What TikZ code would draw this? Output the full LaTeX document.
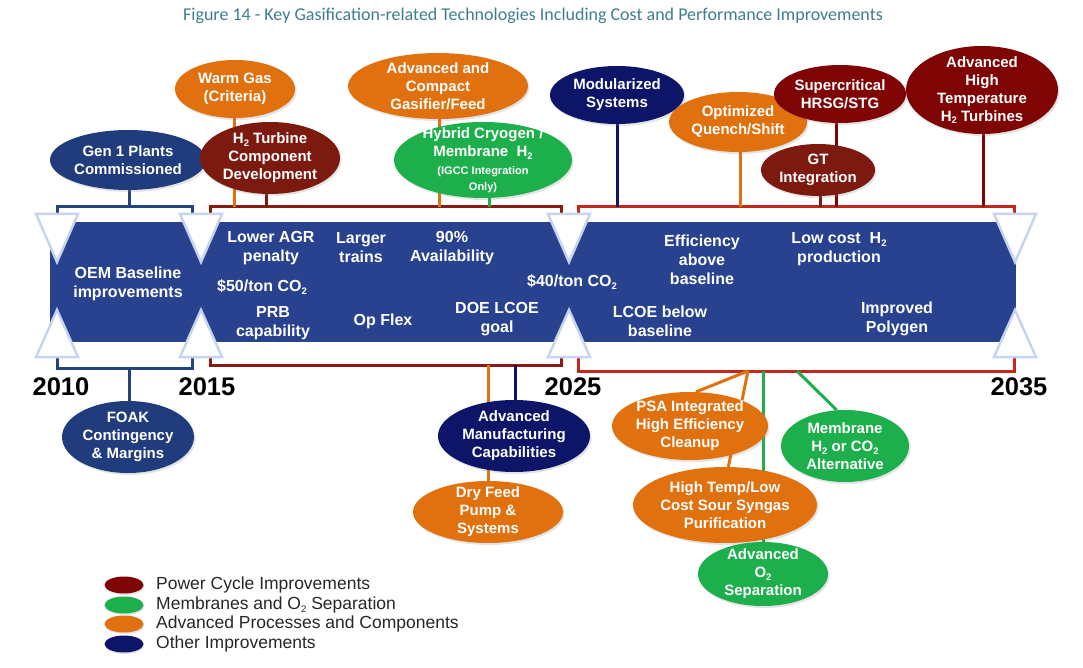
\documentclass[tikz,border=0pt]{standalone}
\usepackage{fontspec}
\setmainfont{Liberation Sans}
\newfontfamily\titlefont{Carlito}
\usetikzlibrary{shapes.geometric,shadows}
\pgfdeclarelayer{bg}
\pgfsetlayers{bg,main}
\definecolor{navyA}{HTML}{213C7C}
\definecolor{navyB}{HTML}{0D1568}
\definecolor{dred}{HTML}{7D1A10}
\definecolor{dredB}{HTML}{7F0404}
\definecolor{grn}{HTML}{1CAF4C}
\definecolor{org}{HTML}{E1700F}
\definecolor{bandc}{HTML}{28428F}
\definecolor{tric}{HTML}{C7D4F0}
\definecolor{brBlue}{HTML}{24427F}
\definecolor{brDred}{HTML}{8A1B12}
\definecolor{brRed}{HTML}{C4261C}
\definecolor{ttl}{HTML}{3E7D8C}
\definecolor{legt}{HTML}{262626}
\newcommand{\subs}[1]{\raisebox{-0.35ex}{\fontsize{9.5}{9.5}\selectfont #1}}
\newcommand{\smallf}{\fontsize{11}{12}\selectfont}
\tikzset{
  bub/.style={ellipse, fill=#1, text=white, font=\bfseries\fontsize{15}{18}\selectfont,
    align=center, inner sep=-10pt,
    drop shadow={opacity=0.22, shadow xshift=1.5pt, shadow yshift=-2pt}},
  bt/.style={text=white, font=\bfseries\fontsize{16}{19}\selectfont, align=center, inner sep=0pt},
  yr/.style={text=black, font=\bfseries\fontsize{25.5}{28}\selectfont, inner sep=0pt},
  stem/.style={line width=3pt, draw=#1},
  brk/.style={line width=3pt, draw=#1, line join=miter},
  trist/.style={fill=white, draw=tric, line width=2.5pt, line join=miter},
  leg/.style={ellipse, fill=#1, minimum width=39, minimum height=17, inner sep=0pt,
    drop shadow={opacity=0.22, shadow xshift=1pt, shadow yshift=-1.5pt}},
  legtxt/.style={anchor=west, text=legt, font=\fontsize{17.5}{20}\selectfont, inner sep=0pt}
}
\begin{document}
\begin{tikzpicture}[x=1pt,y=-1pt]
\useasboundingbox (0,0) rectangle (1083,668);

% title
\node[font=\titlefont\fontsize{18}{20}\selectfont, text=ttl, inner sep=0pt] (title) at (533,16)
  {Figure 14 - Key Gasification-related Technologies Including Cost and Performance Improvements};

% band
\node[rectangle, fill=bandc, minimum width=966, minimum height=120, anchor=north west, inner sep=0pt] (bandbox) at (50,222) {};
\foreach \x in {57,201,569,1015} {
  \draw[trist] (\x-21,214) -- (\x,262) -- (\x+21,214) -- cycle;
  \draw[trist] (\x-21,357) -- (\x,310) -- (\x+21,357) -- cycle;
}

% band texts
\node[bt] (oem) at (128,284) {OEM Baseline\\improvements};
\node[bt] (agr) at (271,248) {Lower AGR\\penalty};
\node[bt] (lt) at (361,248) {Larger\\trains};
\node[bt] (avail) at (452,248) {90\%\\Availability};
\node[bt] (c50) at (262,287) {\$50/ton CO\subs{2}};
\node[bt] (prb) at (273,323) {PRB\\capability};
\node[bt] (opf) at (383,321) {Op Flex};
\node[bt] (doe) at (497,319) {DOE LCOE\\goal};
\node[bt] (c40) at (572,282) {\$40/ton CO\subs{2}};
\node[bt] (eff) at (702,260) {Efficiency\\above\\baseline};
\node[bt] (lch) at (839,249) {Low cost~ H\subs{2}\\production};
\node[bt] (lcoe) at (660,321) {LCOE below\\baseline};
\node[bt] (poly) at (897,319) {Improved\\Polygen};

% year labels
\node[yr] (y2010) at (61,387) {2010};
\node[yr] (y2015) at (207,387) {2015};
\node[yr] (y2025) at (573,387) {2025};
\node[yr] (y2035) at (1019,387) {2035};

% ellipses (top)
\node[bub=navyA, minimum width=156, minimum height=60] (gen1) at (128,160) {Gen 1 Plants\\Commissioned};
\node[bub=org, minimum width=120, minimum height=58] (warm) at (235,89) {Warm Gas\\(Criteria)};
\node[bub=dred, minimum width=140, minimum height=72] (h2t) at (270,158) {H\subs{2} Turbine\\Component\\Development};
\node[bub=org, minimum width=180, minimum height=66] (acg) at (438,86) {Advanced and\\Compact\\Gasifier/Feed};
\node[bub=grn, minimum width=178, minimum height=76] (hyb) at (483,160) {Hybrid Cryogen /\\Membrane~ H\subs{2}\\{\smallf (IGCC Integration}\\[-2pt]{\smallf Only)}};
\node[bub=navyB, minimum width=134, minimum height=58] (mod) at (617,95) {Modularized\\Systems};
\node[bub=org, minimum width=138, minimum height=60] (opt) at (738,122) {Optimized\\Quench/Shift};
\node[bub=dredB, minimum width=132, minimum height=58] (sup) at (840,94) {Supercritical\\HRSG/STG};
\node[bub=dred, minimum width=114, minimum height=52] (gti) at (818,170) {GT\\Integration};
\node[bub=dredB, minimum width=152, minimum height=88] (aht) at (982,90) {Advanced\\High\\Temperature\\H\subs{2} Turbines};

% ellipses (bottom)
\node[bub=navyA, minimum width=132, minimum height=72] (foak) at (128,437) {FOAK\\Contingency\\\& Margins};
\node[bub=navyB, minimum width=152, minimum height=72] (adm) at (514,436) {Advanced\\Manufacturing\\Capabilities};
\node[bub=org, minimum width=150, minimum height=62] (dry) at (488,512) {Dry Feed\\Pump \&\\Systems};
\node[bub=org, minimum width=156, minimum height=68] (psa) at (690,426) {PSA Integrated\\High Efficiency\\Cleanup};
\node[bub=grn, minimum width=128, minimum height=72] (mem) at (845,446) {Membrane\\H\subs{2} or CO\subs{2}\\Alternative};
\node[bub=org, minimum width=184, minimum height=76] (hts) at (725,505) {High Temp/Low\\Cost Sour Syngas\\Purification};
\node[bub=grn, minimum width=130, minimum height=64] (o2) at (763,574) {Advanced\\O\subs{2}\\Separation};

% legend
\node[leg=dredB] (l1) at (124,585) {};
\node[leg=grn] (l2) at (124,605) {};
\node[leg=org] (l3) at (124,624) {};
\node[leg=navyB] (l4) at (124,644) {};
\node[legtxt] (t1) at (156,585) {Power Cycle Improvements};
\node[legtxt] (t2) at (156,605) {Membranes and O\subs{2} Separation};
\node[legtxt] (t3) at (156,624) {Advanced Processes and Components};
\node[legtxt] (t4) at (156,644) {Other Improvements};

% bracket and stem coordinates
\coordinate (sGen) at (129,207);
\coordinate (sWarm) at (234,207);
\coordinate (sH2) at (266,207);
\coordinate (sAcg) at (439,207);
\coordinate (sHyb) at (489,207);
\coordinate (sMod) at (617,207);
\coordinate (sOpt) at (740,207);
\coordinate (sGti) at (820,207);
\coordinate (sSup) at (836,207);
\coordinate (sAht) at (983,207);
\coordinate (sFoak) at (129,368);
\coordinate (sAdm) at (515,365);
\coordinate (sDry) at (488,365);
\coordinate (pj) at (748,371);
\coordinate (sO2) at (763,371);
\coordinate (sMem) at (797,371);

\begin{pgfonlayer}{bg}
  % brackets top
  \draw[brk=brBlue] (57,214) -- (57,207) -- (192,207) -- (192,214);
  \draw[brk=brDred] (210,214) -- (210,207) -- (561,207) -- (561,214);
  \draw[brk=brRed] (578,214) -- (578,207) -- (1014,207) -- (1014,214);
  % brackets bottom
  \draw[brk=brBlue] (57,357) -- (57,368) -- (192,368) -- (192,357);
  \draw[brk=brDred] (210,357) -- (210,365) -- (561,365) -- (561,357);
  \draw[brk=brRed] (578,357) -- (578,371) -- (1014,371) -- (1014,357);
  % stems top
  \draw[stem=brBlue] (gen1.center -| sGen) -- (sGen);
  \draw[stem=org] (warm.center -| sWarm) -- (sWarm);
  \draw[stem=dred] (h2t.center -| sH2) -- (sH2);
  \draw[stem=org] (acg.center -| sAcg) -- (sAcg);
  \draw[stem=grn] (hyb.center -| sHyb) -- (sHyb);
  \draw[stem=navyB] (mod.center -| sMod) -- (sMod);
  \draw[stem=org] (opt.center -| sOpt) -- (sOpt);
  \draw[stem=dred] (gti.center -| sGti) -- (sGti);
  \draw[stem=dredB] (sup.center -| sSup) -- (sSup);
  \draw[stem=dredB] (aht.center -| sAht) -- (sAht);
  % stems bottom
  \draw[stem=brBlue] (sFoak) -- (foak.center -| sFoak);
  \draw[stem=navyB] (sAdm) -- (adm.center -| sAdm);
  \draw[stem=org] (sDry) -- (dry.center -| sDry);
  \draw[stem=org] (pj) -- (psa.80);
  \draw[stem=org] (pj) -- (hts.85);
  \draw[stem=grn] (sO2) -- (o2.center -| sO2);
  \draw[stem=grn] (sMem) -- (mem.103);
\end{pgfonlayer}
\end{tikzpicture}
\end{document}
